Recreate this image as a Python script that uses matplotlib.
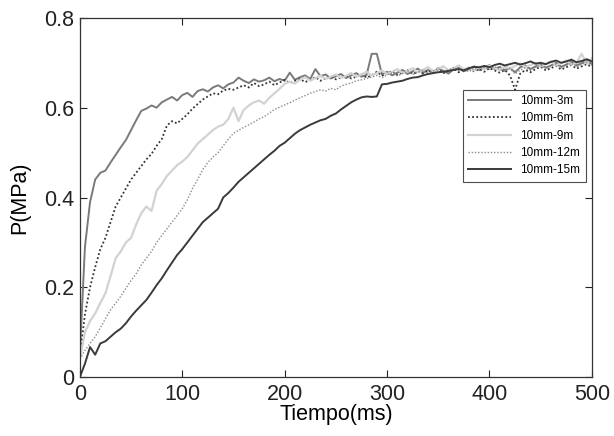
import numpy as np
import matplotlib
matplotlib.use('Agg')
import matplotlib.pyplot as plt

plt.rcParams['font.family'] = ['Liberation Sans', 'DejaVu Sans']

# sample times (ms)
t = np.arange(0, 501, 5)

# pressure (MPa), one value every 5 ms, rows of 50 ms
p_3m = [0.05, 0.29, 0.39, 0.44, 0.455, 0.46, 0.478, 0.495, 0.512, 0.528,
        0.55, 0.572, 0.593, 0.598, 0.605, 0.60, 0.612, 0.618, 0.624, 0.616,
        0.628, 0.633, 0.624, 0.637, 0.641, 0.636, 0.645, 0.65, 0.643, 0.652,
        0.656, 0.667, 0.66, 0.655, 0.663, 0.658, 0.661, 0.667, 0.659, 0.664,
        0.66, 0.678, 0.662, 0.668, 0.672, 0.664, 0.686, 0.67, 0.674, 0.665,
        0.67, 0.675, 0.666, 0.672, 0.677, 0.669, 0.673, 0.72, 0.72, 0.674,
        0.68, 0.672, 0.678, 0.684, 0.675, 0.681, 0.687, 0.678, 0.684, 0.679,
        0.688, 0.682, 0.676, 0.686, 0.69, 0.681, 0.686, 0.692, 0.684, 0.689,
        0.695, 0.686, 0.691, 0.684, 0.688, 0.679, 0.69, 0.694, 0.686, 0.692,
        0.698, 0.689, 0.694, 0.70, 0.691, 0.696, 0.703, 0.694, 0.699, 0.706,
        0.697]

p_6m = [0.045, 0.14, 0.2, 0.245, 0.285, 0.31, 0.345, 0.38, 0.40, 0.42,
        0.44, 0.455, 0.47, 0.485, 0.497, 0.515, 0.53, 0.56, 0.57, 0.565,
        0.575, 0.585, 0.598, 0.608, 0.618, 0.625, 0.632, 0.63, 0.638, 0.642,
        0.64, 0.645, 0.65, 0.645, 0.655, 0.648, 0.652, 0.658, 0.65, 0.656,
        0.662, 0.655, 0.66, 0.664, 0.657, 0.662, 0.668, 0.66, 0.665, 0.67,
        0.663, 0.667, 0.672, 0.665, 0.669, 0.675, 0.667, 0.672, 0.68, 0.671,
        0.676, 0.682, 0.673, 0.678, 0.684, 0.675, 0.68, 0.676, 0.683, 0.678,
        0.685, 0.677, 0.682, 0.687, 0.679, 0.684, 0.689, 0.681, 0.686, 0.68,
        0.688, 0.683, 0.678, 0.684, 0.672, 0.64, 0.676, 0.684, 0.679, 0.686,
        0.691, 0.683, 0.688, 0.693, 0.685, 0.69, 0.695, 0.687, 0.692, 0.697,
        0.69]

p_9m = [0.04, 0.1, 0.125, 0.142, 0.165, 0.187, 0.225, 0.265, 0.28, 0.3,
        0.31, 0.34, 0.365, 0.38, 0.37, 0.415, 0.43, 0.448, 0.46, 0.472,
        0.48, 0.49, 0.505, 0.52, 0.53, 0.54, 0.55, 0.558, 0.562, 0.575,
        0.60, 0.57, 0.595, 0.605, 0.612, 0.616, 0.609, 0.622, 0.632, 0.642,
        0.653, 0.658, 0.654, 0.662, 0.668, 0.66, 0.666, 0.671, 0.664, 0.669,
        0.674, 0.666, 0.671, 0.677, 0.669, 0.674, 0.68, 0.672, 0.677, 0.683,
        0.675, 0.68, 0.686, 0.677, 0.682, 0.688, 0.679, 0.684, 0.69, 0.681,
        0.686, 0.692, 0.683, 0.688, 0.694, 0.685, 0.69, 0.683, 0.691, 0.686,
        0.694, 0.688, 0.684, 0.692, 0.687, 0.693, 0.699, 0.69, 0.695, 0.70,
        0.692, 0.697, 0.703, 0.694, 0.699, 0.705, 0.696, 0.70, 0.72, 0.698,
        0.71]

p_12m = [0.04, 0.06, 0.075, 0.09, 0.11, 0.13, 0.15, 0.165, 0.18, 0.198,
         0.215, 0.23, 0.25, 0.265, 0.28, 0.3, 0.315, 0.33, 0.345, 0.36,
         0.375, 0.395, 0.42, 0.44, 0.462, 0.478, 0.49, 0.5, 0.515, 0.53,
         0.543, 0.55, 0.556, 0.562, 0.568, 0.575, 0.58, 0.588, 0.596, 0.601,
         0.606, 0.611, 0.617, 0.622, 0.627, 0.632, 0.636, 0.64, 0.637, 0.643,
         0.64, 0.648, 0.652, 0.655, 0.66, 0.662, 0.665, 0.668, 0.672, 0.667,
         0.673, 0.678, 0.671, 0.676, 0.682, 0.674, 0.679, 0.684, 0.677, 0.682,
         0.687, 0.679, 0.684, 0.689, 0.682, 0.686, 0.68, 0.688, 0.683, 0.69,
         0.685, 0.691, 0.686, 0.681, 0.688, 0.675, 0.684, 0.689, 0.683, 0.69,
         0.695, 0.687, 0.692, 0.697, 0.689, 0.694, 0.699, 0.691, 0.696, 0.701,
         0.694]

p_15m = [0.0, 0.03, 0.067, 0.05, 0.075, 0.08, 0.09, 0.1, 0.108, 0.12,
         0.135, 0.148, 0.16, 0.172, 0.188, 0.205, 0.22, 0.238, 0.255, 0.272,
         0.285, 0.3, 0.315, 0.33, 0.345, 0.355, 0.365, 0.375, 0.4, 0.41,
         0.422, 0.435, 0.445, 0.455, 0.465, 0.475, 0.485, 0.495, 0.504, 0.515,
         0.522, 0.532, 0.542, 0.55, 0.556, 0.562, 0.567, 0.572, 0.575, 0.582,
         0.587, 0.596, 0.604, 0.612, 0.618, 0.623, 0.625, 0.624, 0.625, 0.652,
         0.653, 0.656, 0.658, 0.66, 0.664, 0.667, 0.668, 0.672, 0.675, 0.677,
         0.679, 0.68, 0.682, 0.684, 0.686, 0.683, 0.688, 0.691, 0.69, 0.693,
         0.69, 0.695, 0.698, 0.694, 0.697, 0.70, 0.696, 0.699, 0.703, 0.698,
         0.70, 0.697, 0.702, 0.705, 0.70, 0.703, 0.707, 0.701, 0.704, 0.708,
         0.703]

labels = ['10mm-3m', '10mm-6m', '10mm-9m', '10mm-12m', '10mm-15m']

fig = plt.figure(figsize=(6.14, 4.36), dpi=100)
ax = fig.add_axes([0.130, 0.135, 0.834, 0.824])

ax.plot(t, p_3m, color='#7a7a7a', lw=1.4, label=labels[0])
ax.plot(t, p_6m, color='#333333', lw=1.3, linestyle=(0, (1, 1.3)), label=labels[1])
ax.plot(t, p_9m, color='#d2d2d2', lw=1.6, label=labels[2])
ax.plot(t, p_12m, color='#8a8a8a', lw=1.0, linestyle=(0, (1, 1.3)), label=labels[3])
ax.plot(t, p_15m, color='#3a3a3a', lw=1.4, label=labels[4])

ax.set_xlim(0, 500)
ax.set_ylim(0, 0.8)
ax.set_xticks([0, 100, 200, 300, 400, 500])
ax.set_yticks([0, 0.2, 0.4, 0.6, 0.8])
ax.set_yticklabels(['0', '0.2', '0.4', '0.6', '0.8'])
ax.tick_params(direction='in', top=True, right=True, length=5, width=0.8,
               labelsize=15.5, colors='#222222')
ax.tick_params(axis='x', pad=5)
ax.tick_params(axis='y', pad=4)
for s in ax.spines.values():
    s.set_linewidth(0.9)
    s.set_color('#333333')

ax.set_xlabel('Tiempo(ms)', fontsize=15.5, labelpad=-1)
ax.set_ylabel('P(MPa)', fontsize=15.5, labelpad=10)

leg = ax.legend(loc='upper right', bbox_to_anchor=(0.988, 0.80), fontsize=8.5,
                frameon=True, fancybox=False, handlelength=3.6,
                labelspacing=0.45, borderpad=0.45, handletextpad=0.8,
                borderaxespad=0)
leg.get_frame().set_edgecolor('#222222')
leg.get_frame().set_linewidth(0.8)

fig.savefig('out.png', dpi=100)
